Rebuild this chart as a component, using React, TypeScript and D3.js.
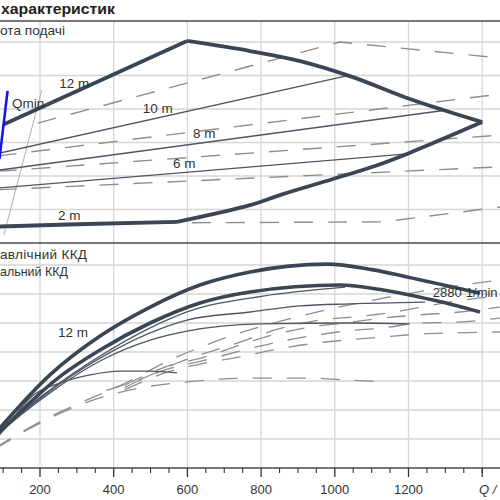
import React from "react";
import * as d3 from "d3";

type P = [number, number];

// ---- axis / grid values ----
const qMajorTicks = [200, 400, 600, 800, 1000, 1200];
const qGrid = [200, 400, 600, 800, 1000, 1200, 1400];
const qMinorTicks = [0, 50, 100, 150, 250, 300, 350, 450, 500, 550, 650, 700, 750, 850, 900, 950, 1050, 1100, 1150, 1250, 1300, 1350, 1400, 1450];
const headGrid = [20, 30, 40, 50, 60, 70];
const effGrid = [10, 20, 30, 40, 50, 60, 70];

// ---- texts ----
const titleText = "характеристик";
const headTitle = "ота подачі";
const effHydTitle = "авлічний ККД";
const effTotTitle = "альний ККД";
const qAxisLabel = "Q /";
const speedValue = "2880";
const speedUnit = "1/min";

// ---- top panel (Q, head) ----
const env12: P[] = [[101, 45.4], [599, 70.3]];
const envMax: P[] = [[599, 70.3], [770, 67.3], [906, 64.3], [1047, 59.6], [1196, 53.3], [1294, 49.7], [1400, 46.1]];
const envPower: P[] = [[1400, 46.1], [1196, 36.6], [1109, 33.0], [995, 29.1], [859, 24.6], [770, 21.3], [572, 16.3]];
const env2: P[] = [[572, 16.3], [300, 15.6], [50, 14.8]];
const line10: P[] = [[85, 36.7], [1041, 60.1]];
const line8: P[] = [[85, 31.7], [1305, 49.7]];
const line6: P[] = [[85, 26.4], [1196, 36.6]];
const dash12: P[] = [[194, 45.8], [1014, 70.0], [1460, 65.1]];
const dash10: P[] = [[85, 36.0], [1460, 54.6]];
const dash8: P[] = [[85, 31.4], [1460, 42.3]];
const dash6: P[] = [[85, 25.9], [1460, 32.8]];
const dash2: P[] = [[520, 16.0], [1131, 16.3], [1460, 20.9]];
const qminLine: P[] = [[112, 55.4], [90, 35.1]];
const limitLine: P[] = [[205, 55.7], [102, 12.4]];

// ---- bottom panel (Q, efficiency %) ----
const effHyd: P[] = [[0, 0], [91.5, 13.8], [227, 32.1], [363, 45.5], [499, 55.5], [634, 63.1], [770, 67.6], [979, 70.3], [1100, 68.4], [1196, 65.9], [1394, 60.3]];
const effTot: P[] = [[0, 0], [91.5, 12.4], [260, 32.1], [363, 40.7], [499, 50.0], [634, 56.9], [770, 60.7], [1014, 63.1], [1131, 61.4], [1267, 57.9], [1394, 53.8]];
const eff10: P[] = [[0, 0], [91.5, 12.8], [227, 26.9], [363, 38.6], [499, 48.3], [599, 53.8], [805, 59.3], [1028, 62.4]];
const eff8: P[] = [[0, 0], [91.5, 12.4], [227, 26.6], [363, 37.9], [499, 46.6], [599, 51.0], [770, 53.8], [906, 55.9], [1041, 56.6], [1245, 57.2]];
const eff6: P[] = [[0, 0], [91.5, 12.1], [227, 25.9], [363, 36.9], [499, 44.1], [599, 47.2], [797, 49.7], [1041, 50.0], [1204, 49.7]];
const eff2: P[] = [[0, 0], [91.5, 11.7], [186, 25.5], [254, 29.3], [336, 32.1], [417, 33.4], [499, 33.4], [572, 32.8]];
const effD1: P[] = [[0, 0], [91.5, 7.9], [200, 15.9], [308, 22.4], [409, 27.9], [572, 38.3], [743, 46.6], [897, 52.1], [1076, 57.2], [1258, 61.4], [1448, 64.8]];
const effD2: P[] = [[380, 26.8], [480, 31.0], [572, 36.2], [743, 43.4], [838, 47.6], [960, 51.0], [1076, 52.4], [1177, 54.1], [1266, 56.2], [1348, 57.9], [1448, 59.3]];
const effD3: P[] = [[430, 28.6], [539, 34.8], [648, 38.3], [743, 42.4], [832, 45.9], [933, 48.6], [1028, 50.0], [1131, 51.7], [1231, 52.8], [1340, 53.8], [1448, 55.5]];
const effD4: P[] = [[430, 27.8], [539, 33.8], [648, 37.2], [743, 40.3], [832, 43.1], [933, 45.5], [1028, 47.2], [1131, 48.3], [1231, 50.0], [1332, 50.3], [1448, 51.7]];
const effD5: P[] = [[430, 27.0], [539, 32.8], [648, 36.2], [743, 38.3], [832, 40.7], [933, 42.8], [1028, 44.1], [1131, 45.2], [1231, 46.2], [1332, 46.6], [1448, 46.9]];
const effDLow: P[] = [[0, 0], [91.5, 7.6], [200, 15.5], [344, 23.4], [471, 27.6], [599, 29.7], [770, 31.0], [933, 31.0], [1041, 30.3], [1131, 29.7]];

const THICK = "#3b4654";
const THIN = "#4d5663";
const DASH = "#8e8e8e";
const GRID = "#d6d6d6";
const TEXT = "#333";
const FONT = "'Liberation Sans', Arial, sans-serif";

export default function App() {
  const x = d3.scaleLinear().domain([0, 1400]).range([-33.7, 482.2]);
  const yT = d3.scaleLinear().domain([10, 70]).range([243, 42]);
  const yB = d3.scaleLinear().domain([0, 70]).range([468, 265]);
  const topBorder = 21;

  const tLin = d3.line<P>().x((d) => x(d[0])).y((d) => yT(d[1]));
  const tCur = d3.line<P>().x((d) => x(d[0])).y((d) => yT(d[1])).curve(d3.curveCatmullRom.alpha(0.5));
  const bCur = d3.line<P>().x((d) => x(d[0])).y((d) => yB(d[1])).curve(d3.curveMonotoneX);

  const dashArr = "19,15";

  return (
    <svg width={500} height={500} style={{ position: "absolute", left: 0, top: 0, background: "#fff" }} fontFamily={FONT}>
      {/* grid */}
      {qGrid.map((q) => (
        <line key={"vg" + q} x1={x(q)} x2={x(q)} y1={topBorder} y2={yB(0)} stroke={GRID} strokeWidth={1.3} />
      ))}
      {headGrid.map((h) => (
        <line key={"hg" + h} x1={0} x2={500} y1={yT(h)} y2={yT(h)} stroke={GRID} strokeWidth={1.3} />
      ))}
      {effGrid.map((e) => (
        <line key={"eg" + e} x1={0} x2={500} y1={yB(e)} y2={yB(e)} stroke={GRID} strokeWidth={1.3} />
      ))}

      {/* panel borders */}
      <line x1={0} x2={500} y1={topBorder} y2={topBorder} stroke="#4a4a4a" strokeWidth={1.6} />
      <line x1={0} x2={500} y1={yT(10)} y2={yT(10)} stroke="#4a4a4a" strokeWidth={1.6} />
      <line x1={0} x2={500} y1={yB(0)} y2={yB(0)} stroke="#4a4a4a" strokeWidth={1.4} />

      {/* texts */}
      <text x={1} y={13.5} fontSize={14} fontWeight="bold" fill="#222" textLength={114} lengthAdjust="spacingAndGlyphs">{titleText}</text>
      <text x={0} y={35} fontSize={13} fill={TEXT} textLength={65} lengthAdjust="spacingAndGlyphs">{headTitle}</text>
      <text x={0} y={259} fontSize={13.5} fill={TEXT} textLength={87} lengthAdjust="spacing">{effHydTitle}</text>
      <text x={0} y={276} fontSize={13.5} fill={TEXT} textLength={68} lengthAdjust="spacingAndGlyphs">{effTotTitle}</text>

      {/* top panel */}
      <path d={tLin(limitLine) || ""} fill="none" stroke="#b0b0b0" strokeWidth={1} />
      {[dash12, dash10, dash8, dash6, dash2].map((d, i) => (
        <path key={"td" + i} d={tLin(d) || ""} fill="none" stroke={DASH} strokeWidth={1.4} strokeDasharray={dashArr} />
      ))}
      {[line10, line8, line6].map((d, i) => (
        <path key={"tl" + i} d={tLin(d) || ""} fill="none" stroke={THIN} strokeWidth={1.3} />
      ))}
      <path d={tLin(env12) || ""} fill="none" stroke={THICK} strokeWidth={3.8} strokeLinejoin="round" />
      <path d={tCur(envMax) || ""} fill="none" stroke={THICK} strokeWidth={3.8} strokeLinejoin="round" />
      <path d={tCur(envPower) || ""} fill="none" stroke={THICK} strokeWidth={3.8} strokeLinejoin="round" />
      <path d={tLin(env2) || ""} fill="none" stroke={THICK} strokeWidth={3.8} strokeLinejoin="round" />
      <path d={tLin(qminLine) || ""} fill="none" stroke="#1515e8" strokeWidth={2.6} />

      <text x={x(124)} y={yT(50.3)} fontSize={13.5} fill={TEXT}>Qmin</text>
      <text x={x(252)} y={yT(56.3)} fontSize={13.5} fill={TEXT}>12 m</text>
      <text x={x(479)} y={yT(48.8)} fontSize={13.5} fill={TEXT}>10 m</text>
      <text x={x(615)} y={yT(41.3)} fontSize={13.5} fill={TEXT}>8 m</text>
      <text x={x(561)} y={yT(32.4)} fontSize={13.5} fill={TEXT}>6 m</text>
      <text x={x(249)} y={yT(16.9)} fontSize={13.5} fill={TEXT}>2 m</text>

      {/* bottom panel */}
      {[effD1, effD2, effD3, effD4, effD5, effDLow].map((d, i) => (
        <path key={"bd" + i} d={bCur(d) || ""} fill="none" stroke={DASH} strokeWidth={1.3} strokeDasharray={dashArr} />
      ))}
      {[eff10, eff8, eff6, eff2].map((d, i) => (
        <path key={"bl" + i} d={bCur(d) || ""} fill="none" stroke={THIN} strokeWidth={1.3} />
      ))}
      <path d={bCur(effTot) || ""} fill="none" stroke={THICK} strokeWidth={3.6} />
      <path d={bCur(effHyd) || ""} fill="none" stroke={THICK} strokeWidth={3.6} />

      <text x={x(249)} y={yB(45.2)} fontSize={13.5} fill={TEXT}>12 m</text>
      <text x={x(1266)} y={yB(59.0)} fontSize={13} fill={TEXT}>{speedValue}</text>
      <text x={x(1266) + 33} y={yB(59.0)} fontSize={13} fill={TEXT}>{speedUnit}</text>

      {/* x axis */}
      {qMinorTicks.map((q) => (
        <line key={"mt" + q} x1={x(q)} x2={x(q)} y1={yB(0)} y2={yB(0) + 5} stroke="#333" strokeWidth={1.1} />
      ))}
      {[...qMajorTicks, 1400].map((q) => (
        <line key={"Mt" + q} x1={x(q)} x2={x(q)} y1={yB(0)} y2={yB(0) + 9} stroke="#333" strokeWidth={1.3} />
      ))}
      {qMajorTicks.map((q) => (
        <text key={"tl" + q} x={x(q)} y={494} fontSize={13} textAnchor="middle" fill={TEXT}>{q}</text>
      ))}
      <text x={479} y={494} fontSize={13} fontStyle="italic" fill={TEXT}>{qAxisLabel}</text>
    </svg>
  );
}
